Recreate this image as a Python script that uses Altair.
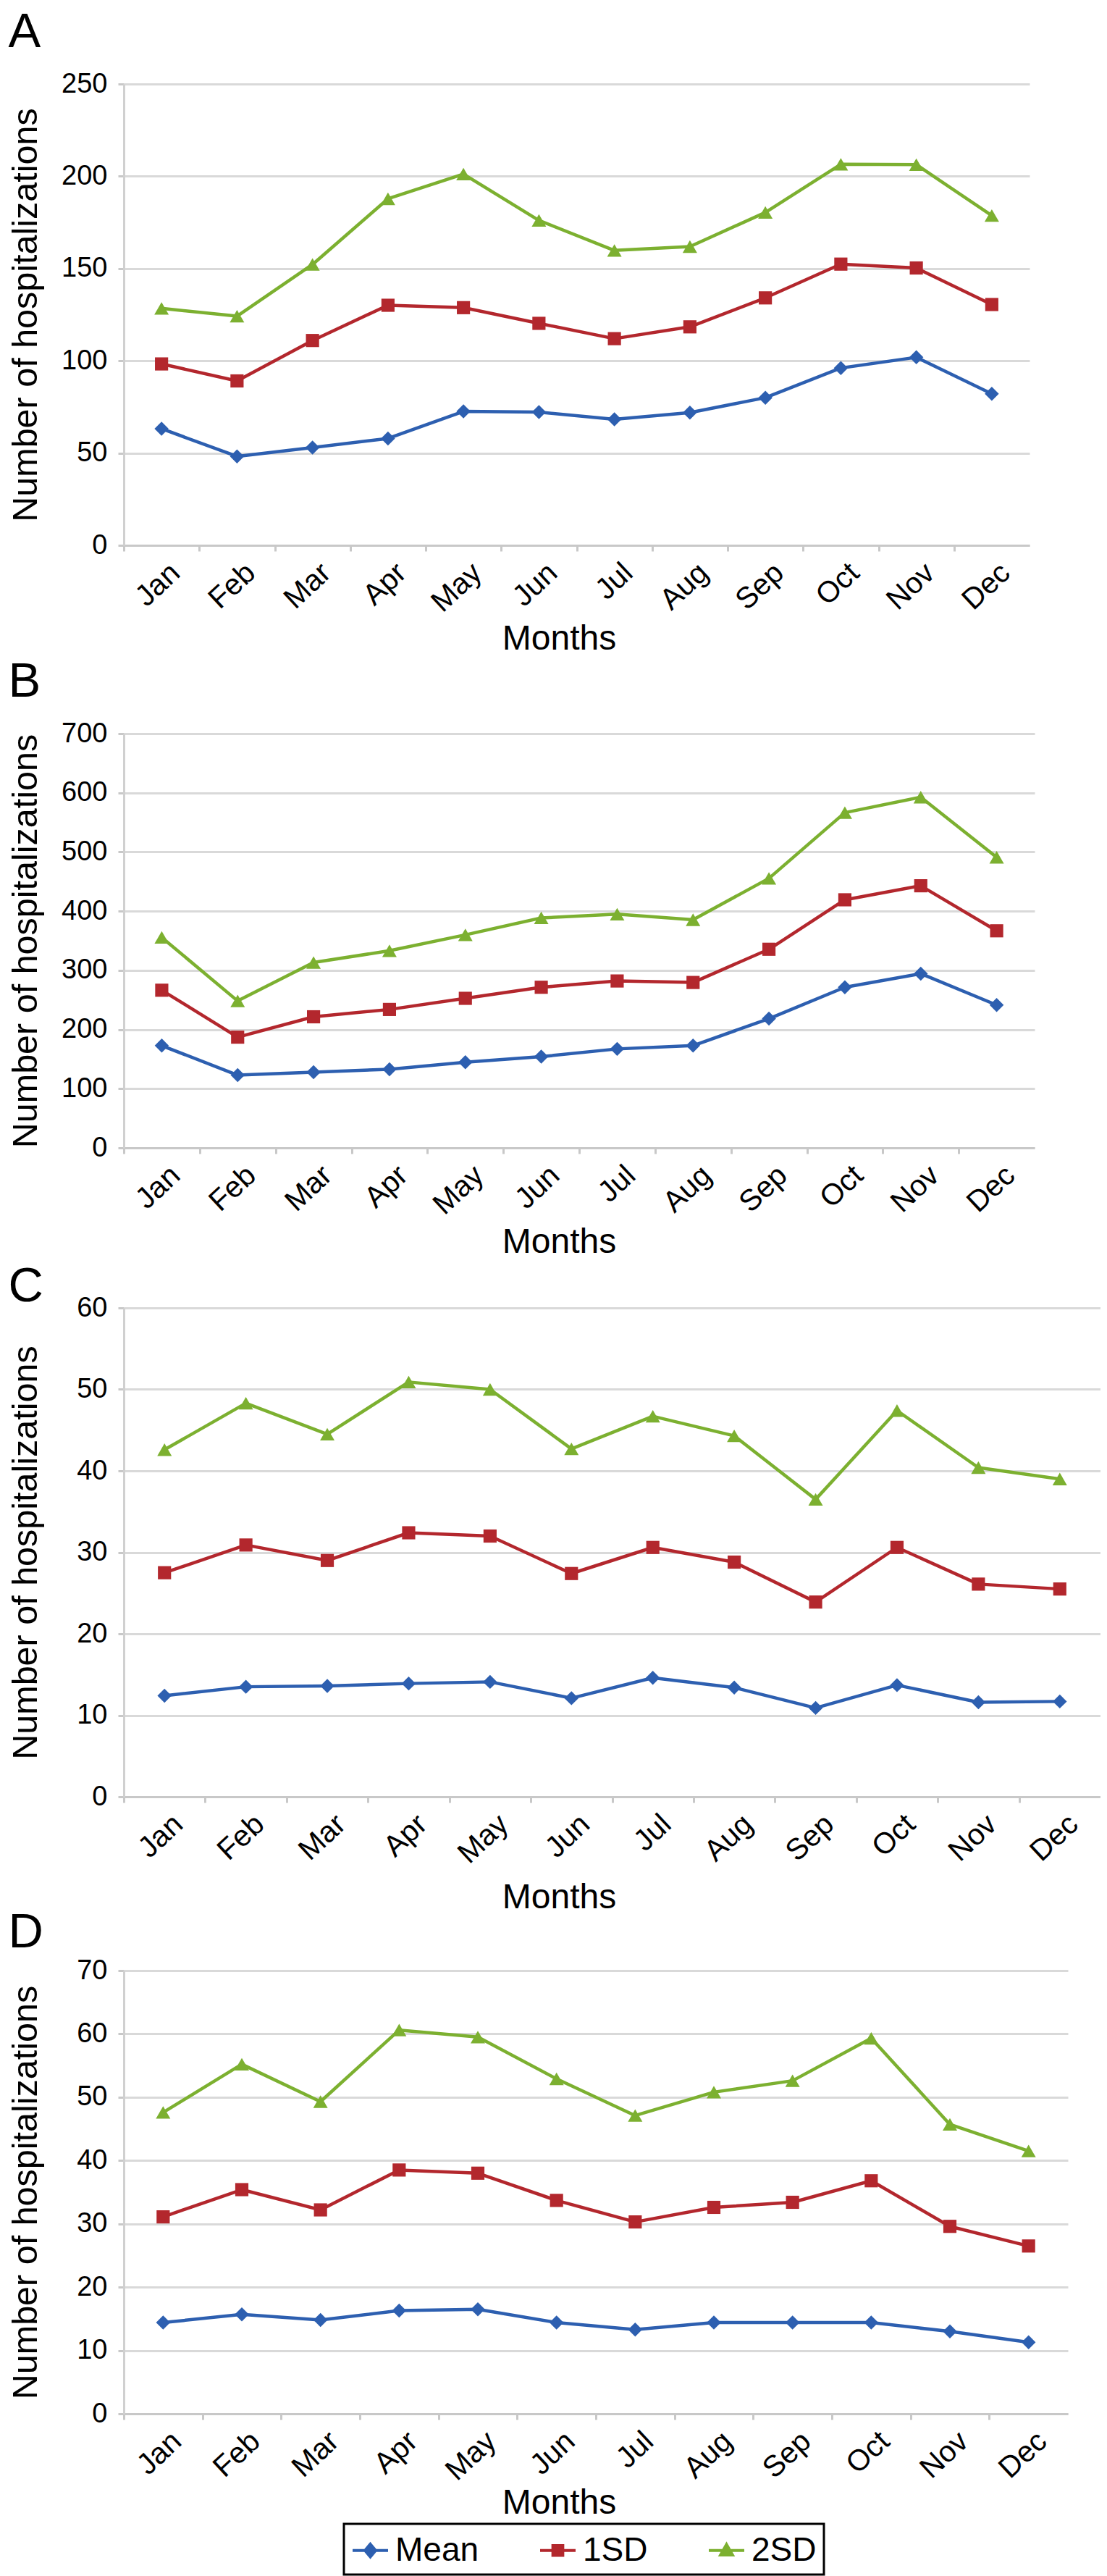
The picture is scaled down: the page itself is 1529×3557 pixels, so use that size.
import altair as alt
import pandas as pd

months = ["Jan", "Feb", "Mar", "Apr", "May", "Jun", "Jul", "Aug", "Sep", "Oct", "Nov", "Dec"]
series_names = ["Mean", "1SD", "2SD"]
series_colors = ["#2d5fb0", "#b3272d", "#7cb030"]
series_shapes = ["diamond", "square", "triangle-up"]
marker_sizes = [380, 330, 400]
legend_paths = [
    "M-1,0L1,0M0,-0.36L0.3,0L0,0.36L-0.3,0Z",
    "M-1,0L1,0M-0.28,-0.28H0.28V0.28H-0.28Z",
    "M-1,0L1,0M0,-0.34L0.34,0.26H-0.34Z",
]

# Panel A
a_mean = [63.2, 48.2, 53.0, 57.9, 72.6, 72.2, 68.3, 71.9, 80.0, 96.1, 101.9, 82.1]
a_1sd = [98.3, 89.1, 111.0, 130.1, 128.8, 120.3, 112.0, 118.4, 134.1, 152.4, 150.3, 130.5]
a_2sd = [128.4, 124.2, 152.2, 187.8, 201.2, 176.1, 159.8, 161.9, 180.4, 206.5, 206.3, 178.7]
# Panel B
b_mean = [172.8, 122.9, 127.9, 132.9, 144.7, 154.1, 167.2, 172.8, 218.3, 271.4, 294.4, 241.4]
b_1sd = [266.4, 187.1, 221.5, 233.9, 252.7, 271.4, 282.0, 279.5, 335.6, 419.2, 442.9, 366.8]
b_2sd = [355.6, 248.3, 313.2, 333.1, 360.0, 388.6, 394.9, 385.5, 455.4, 566.4, 592.6, 491.0]
# Panel C
c_mean = [12.4, 13.5, 13.6, 13.9, 14.1, 12.1, 14.6, 13.4, 10.9, 13.7, 11.6, 11.7]
c_1sd = [27.5, 30.9, 29.0, 32.4, 32.0, 27.4, 30.6, 28.8, 23.9, 30.6, 26.1, 25.5]
c_2sd = [42.6, 48.3, 44.5, 50.9, 50.0, 42.7, 46.7, 44.3, 36.5, 47.4, 40.4, 39.0]
# Panel D
d_mean = [14.4, 15.7, 14.8, 16.3, 16.5, 14.4, 13.3, 14.4, 14.4, 14.4, 13.0, 11.3]
d_1sd = [31.1, 35.4, 32.2, 38.5, 38.0, 33.7, 30.3, 32.6, 33.4, 36.8, 29.6, 26.5]
d_2sd = [47.6, 55.2, 49.3, 60.6, 59.5, 52.9, 47.1, 50.8, 52.6, 59.3, 45.7, 41.5]

FONT = "Liberation Sans, Arial, sans-serif"
GRID = "#d9d9d9"
AXIS_GRAY = "#c8c8c8"
MONTHS_X = 601


def panel(letter, mean, sd1, sd2, ymax, ystep, w, h, t_offset, x_title_pad, with_legend=False):
    df = pd.DataFrame({
        "month": months * 3,
        "series": ["Mean"] * 12 + ["1SD"] * 12 + ["2SD"] * 12,
        "value": list(mean) + list(sd1) + list(sd2),
    })
    band = w / 12.0
    x = alt.X(
        "month:N", sort=months, bandPosition=0.5,
        scale=alt.Scale(type="band", paddingInner=0, paddingOuter=0, domain=months),
        axis=alt.Axis(
            title="Months", grid=False, ticks=True, tickSize=8, tickOffset=-band / 2,
            tickColor=AXIS_GRAY, tickWidth=3, domainColor=AXIS_GRAY, domainWidth=3,
            labelAngle=-43, labelAlign="right", labelBaseline="middle",
            labelOffset=band / 2 + 19, labelPadding=24, labelFont=FONT, labelFontSize=41,
            labelColor="black", titleFont=FONT, titleFontSize=48, titleFontWeight="normal",
            titleColor="black", titlePadding=x_title_pad, titleX=MONTHS_X, titleAlign="center",
        ),
    )
    y = alt.Y(
        "value:Q",
        scale=alt.Scale(domain=[0, ymax], nice=False, zero=True),
        axis=alt.Axis(
            title="Number of hospitalizations", values=list(range(0, ymax + 1, ystep)),
            grid=True, gridColor=GRID, gridWidth=3, ticks=True, tickSize=8,
            tickColor=AXIS_GRAY, tickWidth=3, domainColor="#d0d0d0", domainWidth=3,
            labelFont=FONT, labelFontSize=38, labelColor="black", labelPadding=15,
            minExtent=104, maxExtent=104, titleFont=FONT, titleFontSize=48.5,
            titleFontWeight="normal", titleColor="black", titlePadding=6.5,
        ),
    )
    layers = []
    for name, color, shape, msize in zip(series_names, series_colors, series_shapes, marker_sizes):
        base = alt.Chart(df).transform_filter(alt.datum.series == name)
        layers.append(base.mark_line(color=color, strokeWidth=4.5, strokeJoin="round").encode(x=x, y=y))
        layers.append(base.mark_point(shape=shape, filled=True, color=color, size=msize, opacity=1).encode(x=x, y=y))
    if with_legend:
        leg = alt.Legend(
            orient="none", legendX=304, legendY=3369, direction="horizontal", title=None,
            labelFont=FONT, labelFontSize=46, labelColor="black", symbolSize=2400,
            symbolStrokeWidth=4, symbolOpacity=1, columnPadding=76, labelOffset=8,
            padding=10, strokeColor="black",
        )
        layers.append(
            alt.Chart(df).mark_point(opacity=0, filled=True).encode(
                x=x, y=y,
                fill=alt.Fill("series:N", scale=alt.Scale(domain=series_names, range=series_colors), legend=leg),
                stroke=alt.Stroke("series:N", scale=alt.Scale(domain=series_names, range=series_colors), legend=leg),
                shape=alt.Shape("series:N", scale=alt.Scale(domain=series_names, range=legend_paths), legend=leg),
            )
        )
    return alt.layer(*layers).properties(
        width=w, height=h,
        title=alt.TitleParams(letter, anchor="start", frame="bounds", font=FONT, fontSize=67,
                              fontWeight="normal", color="black", offset=t_offset),
    )


pa = panel("A", a_mean, a_1sd, a_2sd, 250, 50, 1251, 637, 18, 6)
pb = panel("B", b_mean, b_1sd, b_2sd, 700, 100, 1258, 572, 17.6, 7)
pc = panel("C", c_mean, c_1sd, c_2sd, 60, 10, 1349, 675, -24.4, 16)
pd_ = panel("D", d_mean, d_1sd, d_2sd, 70, 10, 1304, 612, -1.4, 0, with_legend=True)

cd = alt.vconcat(pc, pd_, spacing=-10)
bcd = alt.vconcat(pb, cd, spacing=3)
chart = (
    alt.vconcat(pa, bcd, spacing=1)
    .properties(padding={"left": 3, "top": 3, "right": 0, "bottom": 0})
    .configure_view(stroke=None)
    .configure_legend(strokeWidth=3)
)

chart.save("out.html", embed_options={"renderer": "svg", "actions": False})
